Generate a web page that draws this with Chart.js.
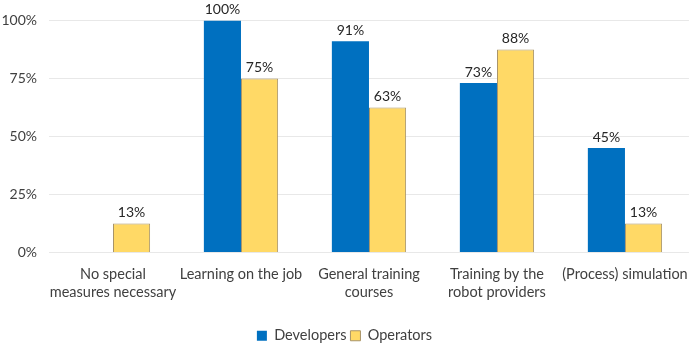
<!DOCTYPE html>
<html>
<head>
<meta charset="utf-8">
<script src="https://cdn.jsdelivr.net/npm/chart.js@4/dist/chart.umd.min.js"></script>
<style>
html,body{margin:0;padding:0;background:#fff;}
#wrap{width:692px;height:346px;position:relative;}
</style>
</head>
<body>
<div id="wrap"><canvas id="c"></canvas></div>
<script>
const categories = [
  ["No special", "measures necessary"],
  ["Learning on the job"],
  ["General training", "courses"],
  ["Training by the", "robot providers"],
  ["(Process) simulation"]
];
const developers = [0, 100, 91, 73, 45];
const operators = [12.5, 75, 62.5, 87.5, 12.5];
const yTicks = [0, 25, 50, 75, 100];

const FONT = "Lato, 'Open Sans', 'Liberation Sans', sans-serif";
const TXT = '#404040';

const labelPlugin = {
  id: 'valueLabels',
  afterDatasetsDraw(chart) {
    const ctx = chart.ctx;
    ctx.save();
    ctx.font = '14px ' + FONT;
    ctx.fillStyle = '#262626';
    ctx.textAlign = 'center';
    ctx.textBaseline = 'alphabetic';
    chart.data.datasets.forEach((ds, i) => {
      const meta = chart.getDatasetMeta(i);
      meta.data.forEach((bar, j) => {
        const v = ds.data[j];
        if (!v) return;
        ctx.fillText(Math.round(v) + '%', bar.x, bar.y - 6);
      });
    });
    ctx.restore();
  }
};

new Chart(document.getElementById('c'), {
  type: 'bar',
  data: {
    labels: categories,
    datasets: [
      { label: 'Developers', data: developers, backgroundColor: '#0070C0', borderWidth: 0 },
      { label: 'Operators', data: operators, backgroundColor: '#FFD966', borderColor: '#A8946A', borderWidth: 1 }
    ]
  },
  options: {
    responsive: true,
    maintainAspectRatio: false,
    animation: false,
    layout: { padding: { left: 0, right: 3, top: 16, bottom: -7 } },
    datasets: { bar: { categoryPercentage: 0.58, barPercentage: 1.0 } },
    scales: {
      x: {
        grid: { display: false },
        border: { display: false },
        ticks: { color: TXT, font: { family: FONT, size: 14.5, lineHeight: 1.3 }, maxRotation: 0, autoSkip: false, padding: 4 },
        afterFit(axis) { axis.height = 72; }
      },
      y: {
        min: 0, max: 100,
        afterBuildTicks(axis) { axis.ticks = yTicks.map(v => ({ value: v })); },
        grid: { color: '#E8E8E8', drawTicks: false },
        border: { display: false },
        ticks: { color: TXT, font: { family: FONT, size: 14 }, padding: 12, callback: v => v + '%' },
        afterFit(axis) { axis.width = 49; }
      }
    },
    plugins: {
      legend: {
        position: 'bottom',
        labels: { color: TXT, font: { family: FONT, size: 14.5 }, boxWidth: 10, boxHeight: 10, padding: 4 }
      },
      tooltip: { enabled: false }
    }
  },
  plugins: [labelPlugin]
});
</script>
</body>
</html>
